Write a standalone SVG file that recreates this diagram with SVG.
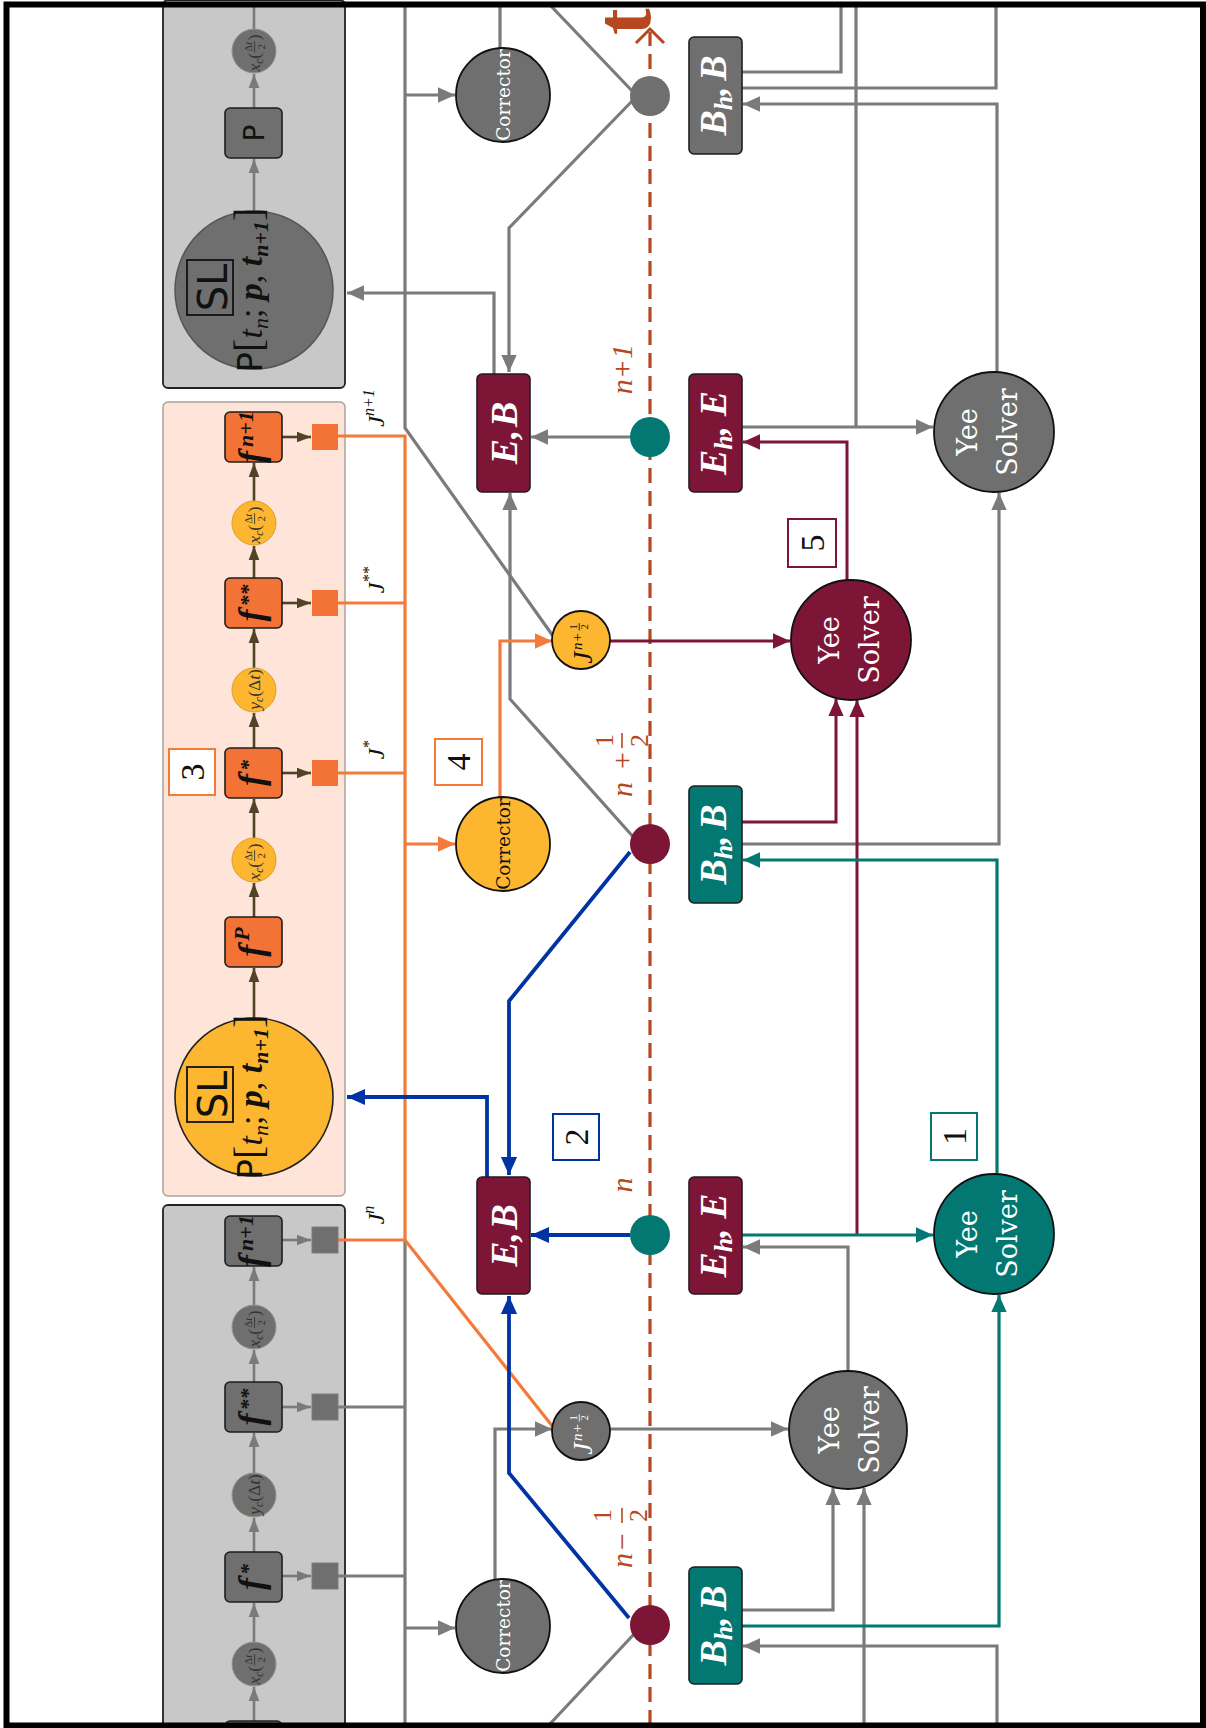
<svg xmlns="http://www.w3.org/2000/svg" width="1206" height="1728" viewBox="0 0 1206 1728">
<defs>
<style>
.gl{fill:none;stroke:#7b7b7b;stroke-width:3.2}
.ol{fill:none;stroke:#f47a3a;stroke-width:3.2}
.ml{fill:none;stroke:#7c1536;stroke-width:3}
.tl{fill:none;stroke:#037873;stroke-width:3.2}
.bl{fill:none;stroke:#0033a4;stroke-width:3.8}
.cp{fill:none;stroke:#4f4526;stroke-width:2.6}
.cg{fill:none;stroke:#7a7a7a;stroke-width:2.6}
.box{stroke:#1e1e1e;stroke-width:1.6}
.circ{stroke:#111;stroke-width:1.8}
.maroon{fill:#7c1536}
.teal{fill:#037873}
.dgray{fill:#6e6f6e}
.orange{fill:#f37337}
.yellow{fill:#fdb62f}
.lbl{font-family:"Liberation Serif","DejaVu Serif",serif;font-weight:bold;font-style:italic;font-size:38px;fill:#fff;text-anchor:middle}
.ys{font-family:"DejaVu Serif","Liberation Serif",serif;font-size:27px;fill:#fff;text-anchor:middle}
.cor{font-family:"DejaVu Serif","Liberation Serif",serif;font-size:18.5px;text-anchor:middle}
.fl{font-family:"Liberation Serif","DejaVu Serif",serif;font-weight:bold;font-style:italic;font-size:36px;fill:#111;text-anchor:middle}
.num{font-family:"Liberation Serif","DejaVu Serif",serif;font-size:34px;fill:#111;text-anchor:middle}
.rust{font-family:"Liberation Serif","DejaVu Serif",serif;fill:#b5481e}
.jl{font-family:"Liberation Serif","DejaVu Serif",serif;font-style:italic;font-size:24px;fill:#111;text-anchor:middle}
.sl{font-family:"Liberation Serif","DejaVu Serif",serif;font-size:34px;fill:#111;text-anchor:middle}
.sm{font-family:"Liberation Serif","DejaVu Serif",serif;fill:currentColor}
</style>
<marker id="aG" viewBox="0 0 10 10" refX="10" refY="5" markerUnits="userSpaceOnUse" markerWidth="17" markerHeight="17" orient="auto"><path d="M0,0.5 L10,5 L0,9.5 z" fill="#7b7b7b"/></marker>
<marker id="aO" viewBox="0 0 10 10" refX="10" refY="5" markerUnits="userSpaceOnUse" markerWidth="17" markerHeight="17" orient="auto"><path d="M0,0.5 L10,5 L0,9.5 z" fill="#f47a3a"/></marker>
<marker id="aM" viewBox="0 0 10 10" refX="10" refY="5" markerUnits="userSpaceOnUse" markerWidth="17" markerHeight="17" orient="auto"><path d="M0,0.5 L10,5 L0,9.5 z" fill="#7c1536"/></marker>
<marker id="aT" viewBox="0 0 10 10" refX="10" refY="5" markerUnits="userSpaceOnUse" markerWidth="17" markerHeight="17" orient="auto"><path d="M0,0.5 L10,5 L0,9.5 z" fill="#037873"/></marker>
<marker id="aB" viewBox="0 0 10 10" refX="10" refY="5" markerUnits="userSpaceOnUse" markerWidth="18" markerHeight="18" orient="auto"><path d="M0,0.5 L10,5 L0,9.5 z" fill="#0033a4"/></marker>
<marker id="sP" viewBox="0 0 10 10" refX="10" refY="5" markerUnits="userSpaceOnUse" markerWidth="14" markerHeight="14" orient="auto"><path d="M0,1.2 L10,5 L0,8.8 z" fill="#4f4526"/></marker>
<marker id="sG" viewBox="0 0 10 10" refX="10" refY="5" markerUnits="userSpaceOnUse" markerWidth="14" markerHeight="14" orient="auto"><path d="M0,1.2 L10,5 L0,8.8 z" fill="#7a7a7a"/></marker>
<g id="xcL"><g transform="rotate(-90) scale(1.45)">
<text class="sm" font-size="12"><tspan x="-14.2" y="4" font-style="italic">x</tspan><tspan font-size="8" dy="2" font-style="italic">c</tspan><tspan dy="-2">(</tspan></text>
<text class="sm" x="3" y="-1.6" font-size="7.5" text-anchor="middle">Δ<tspan font-style="italic">t</tspan></text>
<line x1="-0.8" x2="6.8" y1="0.4" y2="0.4" stroke="currentColor" stroke-width="0.6"/>
<text class="sm" x="3" y="7.4" font-size="7.5" text-anchor="middle">2</text>
<text class="sm" x="7.4" y="4" font-size="12">)</text>
</g></g>
<g id="ycL"><g transform="rotate(-90) scale(1.45)">
<text class="sm" font-size="12"><tspan x="-13.6" y="4" font-style="italic">y</tspan><tspan font-size="8" dy="2" font-style="italic">c</tspan><tspan dy="-2">(Δ</tspan><tspan font-style="italic">t</tspan><tspan>)</tspan></text>
</g></g>
<g id="jhL"><g transform="rotate(-90) scale(1.25)">
<text class="sm" x="-19" y="9" font-size="22" font-style="italic">J</text>
<text class="sm" x="-8" y="1" font-size="12" font-style="italic">n+</text>
<text class="sm" x="10.5" y="-3.2" font-size="8.5" text-anchor="middle">1</text>
<line x1="7.5" x2="13.5" y1="-1.4" y2="-1.4" stroke="currentColor" stroke-width="0.7"/>
<text class="sm" x="10.5" y="5.5" font-size="8.5" text-anchor="middle">2</text>
</g></g>
<g id="slL"><g transform="rotate(-90)">
<rect x="-25" y="-67" width="55" height="46" fill="none" stroke="#111" stroke-width="1.8"/>
<text x="2.5" y="-27" font-family="'DejaVu Sans','Liberation Sans',sans-serif" font-size="40" fill="#111" text-anchor="middle">SL</text>
<text class="sl" x="0" y="8"><tspan font-family="'DejaVu Sans','Liberation Sans',sans-serif">P</tspan><tspan font-size="40">[</tspan><tspan font-style="italic">t</tspan><tspan font-style="italic" font-size="22" dy="6">n</tspan><tspan dy="-6">; </tspan><tspan font-weight="bold" font-style="italic">p</tspan><tspan>, </tspan><tspan font-weight="bold" font-style="italic">t</tspan><tspan font-weight="bold" font-style="italic" font-size="22" dy="6">n+1</tspan><tspan dy="-6" font-size="40">]</tspan></text>
</g></g>
</defs>

<rect x="0" y="0" width="1206" height="1728" fill="#fff"/>

<g id="panels">
<rect id="panel-top" x="163" y="0" width="182" height="388" rx="5" fill="#c8c8c8" stroke="#222" stroke-width="1.8"/>
<rect id="panel-mid" x="163" y="402" width="182" height="794" rx="5" fill="#fee4d9" stroke="#a9a29f" stroke-width="1.5"/>
<rect id="panel-bot" x="163" y="1205" width="182" height="530" rx="5" fill="#c8c8c8" stroke="#222" stroke-width="1.8"/>
</g>

<g id="timeline">
<path d="M650,1725 V32" fill="none" stroke="#b5481e" stroke-width="3.2" stroke-dasharray="15 8"/>
<path d="M636,43 L650,29 L664,43" fill="none" stroke="#b5481e" stroke-width="3"/>
<g transform="translate(650,35) rotate(-90)"><text class="rust" x="0" y="0" font-size="80" font-weight="bold">t</text></g>
<g transform="translate(632,369) rotate(-90)"><text class="rust" x="0" y="0" font-size="30" font-style="italic" text-anchor="middle">n+1</text></g>
<g transform="translate(632,1185) rotate(-90)"><text class="rust" x="0" y="0" font-size="30" font-style="italic" text-anchor="middle">n</text></g>
<g transform="translate(632,766) rotate(-90)">
<text class="rust" x="-31" y="0" font-size="30" font-style="italic">n</text>
<text class="rust" x="-3" y="0" font-size="30">+</text>
<text class="rust" x="25.5" y="-19" font-size="26" text-anchor="middle">1</text>
<line x1="18" x2="33" y1="-10" y2="-10" stroke="#b5481e" stroke-width="1.6"/>
<text class="rust" x="25.5" y="16" font-size="26" text-anchor="middle">2</text>
</g>
<g transform="translate(632,1540) rotate(-90)">
<text class="rust" x="-28" y="0" font-size="30" font-style="italic">n</text>
<text class="rust" x="-10" y="0" font-size="30">−</text>
<text class="rust" x="24.5" y="-21" font-size="26" text-anchor="middle">1</text>
<line x1="17" x2="32" y1="-10" y2="-10" stroke="#b5481e" stroke-width="1.6"/>
<text class="rust" x="24.5" y="15" font-size="26" text-anchor="middle">2</text>
</g>
</g>

<g id="connectors">
<path class="cg" d="M254,29V5" />
<path class="cg" d="M254,108V74" marker-end="url(#sG)"/>
<path class="cg" d="M254,211V159" marker-end="url(#sG)"/>
<path class="cp" d="M254,501V463" marker-end="url(#sP)"/>
<path class="cp" d="M254,578V546" marker-end="url(#sP)"/>
<path class="cp" d="M254,668V629" marker-end="url(#sP)"/>
<path class="cp" d="M254,748V713" marker-end="url(#sP)"/>
<path class="cp" d="M254,838V799" marker-end="url(#sP)"/>
<path class="cp" d="M254,917V883" marker-end="url(#sP)"/>
<path class="cp" d="M254,1018V968" marker-end="url(#sP)"/>
<path class="cp" d="M282,437H311" marker-end="url(#sP)"/>
<path class="cp" d="M282,603H311" marker-end="url(#sP)"/>
<path class="cp" d="M282,773H311" marker-end="url(#sP)"/>
<path class="cg" d="M254,1305V1267" marker-end="url(#sG)"/>
<path class="cg" d="M254,1382V1350" marker-end="url(#sG)"/>
<path class="cg" d="M254,1473V1433" marker-end="url(#sG)"/>
<path class="cg" d="M254,1552V1518" marker-end="url(#sG)"/>
<path class="cg" d="M254,1642V1603" marker-end="url(#sG)"/>
<path class="cg" d="M254,1721V1687" marker-end="url(#sG)"/>
<path class="cg" d="M282,1240H311" marker-end="url(#sG)"/>
<path class="cg" d="M282,1407H311" marker-end="url(#sG)"/>
<path class="cg" d="M282,1576H311" marker-end="url(#sG)"/>
<path class="gl" d="M405,5V428L553,636"/>
<path class="gl" d="M405,95H455" marker-end="url(#aG)"/>
<path class="gl" d="M500,48V5"/>
<path class="gl" d="M550,5L636,95"/>
<path class="gl" d="M636,97L509,228V372" marker-end="url(#aG)"/>
<path class="gl" d="M494,374V293H347" marker-end="url(#aG)"/>
<path class="gl" d="M630,437H531" marker-end="url(#aG)"/>
<path class="gl" d="M636,840L510,699V493" marker-end="url(#aG)"/>
<path class="gl" d="M742,72H841V5"/>
<path class="gl" d="M742,88H996V5"/>
<path class="gl" d="M997,372V104H743" marker-end="url(#aG)"/>
<path class="gl" d="M856,5V427"/>
<path class="gl" d="M742,427H933" marker-end="url(#aG)"/>
<path class="gl" d="M742,844H999V493" marker-end="url(#aG)"/>
<path class="gl" d="M848,1371V1247H743" marker-end="url(#aG)"/>
<path class="gl" d="M405,1240V1725"/>
<path class="gl" d="M338,1407H405"/>
<path class="gl" d="M338,1576H405"/>
<path class="gl" d="M405,1628H455" marker-end="url(#aG)"/>
<path class="gl" d="M495,1579V1429H552" marker-end="url(#aG)"/>
<path class="gl" d="M610,1429H788" marker-end="url(#aG)"/>
<path class="gl" d="M636,1632L549,1725"/>
<path class="gl" d="M742,1610H833V1488" marker-end="url(#aG)"/>
<path class="gl" d="M864,1725V1488" marker-end="url(#aG)"/>
<path class="gl" d="M997,1725V1646H743" marker-end="url(#aG)"/>
<path class="ol" d="M338,436H405V1240"/>
<path class="ol" d="M338,603H405"/>
<path class="ol" d="M338,773H405"/>
<path class="ol" d="M405,844H455" marker-end="url(#aO)"/>
<path class="ol" d="M500,797V641H552" marker-end="url(#aO)"/>
<path class="ol" d="M338,1240H405L553,1427"/>
<path class="ml" d="M610,641H790" marker-end="url(#aM)"/>
<path class="ml" d="M847,580V442H743" marker-end="url(#aM)"/>
<path class="ml" d="M742,822H836V699" marker-end="url(#aM)"/>
<path class="ml" d="M857,1234V700" marker-end="url(#aM)"/>
<path class="tl" d="M742,1235H933" marker-end="url(#aT)"/>
<path class="tl" d="M997,1174V860H743" marker-end="url(#aT)"/>
<path class="tl" d="M742,1626H999V1295" marker-end="url(#aT)"/>
<path class="bl" d="M630,1235H531" marker-end="url(#aB)"/>
<path class="bl" d="M630,852L509,1001V1175" marker-end="url(#aB)"/>
<path class="bl" d="M487,1177V1097H347" marker-end="url(#aB)"/>
<path class="bl" d="M629,1618L509,1473V1296" marker-end="url(#aB)"/>
</g>

<g id="nodes">
<g id="xc-top"><circle cx="254" cy="51" r="22" class="dgray" stroke="#9a9080" stroke-width="1"/><use href="#xcL" x="254" y="51" style="color:#333"/></g>
<g id="p-box"><rect x="225" y="108" width="57" height="50" rx="5" class="dgray box"/><g transform="translate(253.5,133) rotate(-90)"><text x="0" y="10" font-family="'DejaVu Sans','Liberation Sans',sans-serif" font-size="28" fill="#111" text-anchor="middle">P</text></g></g>
<g id="sl-top"><circle cx="254" cy="290" r="79" class="dgray" stroke="#555" stroke-width="1.5"/><use href="#slL" x="254" y="290"/></g>
<g id="f-n1"><rect x="225" y="412" width="57" height="50" rx="5" class="orange box"/><g transform="translate(253.5,437) rotate(-90)"><text class="fl" y="9">f<tspan font-size="22" dx="4" dy="-10">n+1</tspan></text></g></g>
<rect id="sq-n1" x="312" y="424" width="26" height="26" class="orange"/>
<g id="xc-p1"><circle cx="254" cy="523" r="22" class="yellow" stroke="#d99f2a" stroke-width="1"/><use href="#xcL" x="254" y="523" style="color:#333"/></g>
<g id="f-ss"><rect x="225" y="578" width="57" height="50" rx="5" class="orange box"/><g transform="translate(253.5,603) rotate(-90)"><text class="fl" y="9">f<tspan font-size="22" dx="3" dy="-8">**</tspan></text></g></g>
<rect id="sq-ss" x="312" y="590" width="26" height="26" class="orange"/>
<g id="yc-p"><circle cx="254" cy="690" r="22" class="yellow" stroke="#d99f2a" stroke-width="1"/><use href="#ycL" x="254" y="690" style="color:#333"/></g>
<g id="f-s"><rect x="225" y="748" width="57" height="50" rx="5" class="orange box"/><g transform="translate(253.5,773) rotate(-90)"><text class="fl" y="9">f<tspan font-size="22" dx="3" dy="-8">*</tspan></text></g></g>
<rect id="sq-s" x="312" y="760" width="26" height="26" class="orange"/>
<g id="xc-p2"><circle cx="254" cy="860" r="22" class="yellow" stroke="#d99f2a" stroke-width="1"/><use href="#xcL" x="254" y="860" style="color:#333"/></g>
<g id="f-p"><rect x="225" y="917" width="57" height="50" rx="5" class="orange box"/><g transform="translate(253.5,942) rotate(-90)"><text class="fl" y="9">f<tspan font-size="22" dx="4" dy="-14">P</tspan></text></g></g>
<g id="sl-mid"><circle cx="254" cy="1097" r="79" class="yellow" stroke="#222" stroke-width="1.6"/><use href="#slL" x="254" y="1097"/></g>
<g id="box3"><rect x="169" y="749" width="46" height="46" fill="#fff" stroke="#f47a3a" stroke-width="2"/><g transform="translate(192,772) rotate(-90)"><text class="num" y="11.5">3</text></g></g>
<g id="gf-n1"><rect x="225" y="1216" width="57" height="50" rx="5" class="dgray box"/><g transform="translate(253.5,1241) rotate(-90)"><text class="fl" y="9">f<tspan font-size="22" dx="4" dy="-10">n+1</tspan></text></g></g>
<rect id="gsq-n1" x="312" y="1227" width="26" height="26" class="dgray" stroke="#8a7a70" stroke-width="1"/>
<g id="gxc-1"><circle cx="254" cy="1327" r="22" class="dgray" stroke="#9a9080" stroke-width="1"/><use href="#xcL" x="254" y="1327" style="color:#333"/></g>
<g id="gf-ss"><rect x="225" y="1382" width="57" height="50" rx="5" class="dgray box"/><g transform="translate(253.5,1407) rotate(-90)"><text class="fl" y="9">f<tspan font-size="22" dx="3" dy="-8">**</tspan></text></g></g>
<rect id="gsq-ss" x="312" y="1394" width="26" height="26" class="dgray" stroke="#8a7a70" stroke-width="1"/>
<g id="gyc"><circle cx="254" cy="1495" r="22" class="dgray" stroke="#9a9080" stroke-width="1"/><use href="#ycL" x="254" y="1495" style="color:#333"/></g>
<g id="gf-s"><rect x="225" y="1552" width="57" height="50" rx="5" class="dgray box"/><g transform="translate(253.5,1577) rotate(-90)"><text class="fl" y="9">f<tspan font-size="22" dx="3" dy="-8">*</tspan></text></g></g>
<rect id="gsq-s" x="312" y="1563" width="26" height="26" class="dgray" stroke="#8a7a70" stroke-width="1"/>
<g id="gxc-2"><circle cx="254" cy="1664" r="22" class="dgray" stroke="#9a9080" stroke-width="1"/><use href="#xcL" x="254" y="1664" style="color:#333"/></g>
<rect id="gf-next" x="225" y="1721" width="57" height="50" rx="5" class="dgray box"/>

<g transform="translate(384,408) rotate(-90)"><text class="jl">J<tspan font-size="16" dy="-10">n+1</tspan></text></g>
<g transform="translate(384,580) rotate(-90)"><text class="jl">J<tspan font-size="16" dy="-10">**</tspan></text></g>
<g transform="translate(384,750) rotate(-90)"><text class="jl">J<tspan font-size="16" dy="-10">*</tspan></text></g>
<g transform="translate(384,1215) rotate(-90)"><text class="jl">J<tspan font-size="16" dy="-10">n</tspan></text></g>

<g id="corr-top"><circle cx="503" cy="95" r="47" class="dgray circ"/><g transform="translate(503,95) rotate(-90)"><text class="cor" y="7" fill="#fff">Corrector</text></g></g>
<g id="corr-mid"><circle cx="503" cy="844" r="47" class="yellow circ"/><g transform="translate(503,844) rotate(-90)"><text class="cor" y="7" fill="#111">Corrector</text></g></g>
<g id="corr-bot"><circle cx="503" cy="1626" r="47" class="dgray circ"/><g transform="translate(503,1626) rotate(-90)"><text class="cor" y="7" fill="#fff">Corrector</text></g></g>

<g id="jh-mid"><circle cx="581" cy="640" r="29" class="yellow circ"/><use href="#jhL" x="581" y="640" style="color:#111"/></g>
<g id="jh-bot"><circle cx="581" cy="1431" r="29" class="dgray circ"/><use href="#jhL" x="581" y="1431" style="color:#fff"/></g>

<g id="bhb-top"><rect x="689" y="37" width="53" height="117" rx="5" class="dgray box"/><g transform="translate(715.5,95.5) rotate(-90)"><text class="lbl" y="10" word-spacing="-4">B<tspan font-size="26" dy="6">h</tspan><tspan dy="-6">, B</tspan></text></g></g>
<g id="eb-n1"><rect x="477" y="374" width="53" height="118" rx="5" class="maroon box"/><g transform="translate(503.5,433) rotate(-90)"><text class="lbl" y="13" word-spacing="-7">E, B</text></g></g>
<g id="ehe-n1"><rect x="689" y="374" width="53" height="118" rx="5" class="maroon box"/><g transform="translate(715.5,433) rotate(-90)"><text class="lbl" y="10">E<tspan font-size="26" dy="6">h</tspan><tspan dy="-6">, E</tspan></text></g></g>
<g id="bhb-mid"><rect x="689" y="786" width="53" height="117" rx="5" class="teal box"/><g transform="translate(715.5,844.5) rotate(-90)"><text class="lbl" y="10" word-spacing="-4">B<tspan font-size="26" dy="6">h</tspan><tspan dy="-6">, B</tspan></text></g></g>
<g id="eb-n"><rect x="477" y="1177" width="53" height="117" rx="5" class="maroon box"/><g transform="translate(503.5,1235.5) rotate(-90)"><text class="lbl" y="13" word-spacing="-7">E, B</text></g></g>
<g id="ehe-n"><rect x="689" y="1177" width="53" height="117" rx="5" class="maroon box"/><g transform="translate(715.5,1235.5) rotate(-90)"><text class="lbl" y="10">E<tspan font-size="26" dy="6">h</tspan><tspan dy="-6">, E</tspan></text></g></g>
<g id="bhb-bot"><rect x="689" y="1567" width="53" height="117" rx="5" class="teal box"/><g transform="translate(715.5,1625.5) rotate(-90)"><text class="lbl" y="10" word-spacing="-4">B<tspan font-size="26" dy="6">h</tspan><tspan dy="-6">, B</tspan></text></g></g>

<circle id="dot-top" cx="650" cy="96" r="20" class="dgray"/>
<circle id="dot-n1" cx="650" cy="437" r="20" class="teal"/>
<circle id="dot-nh" cx="650" cy="844" r="20" class="maroon"/>
<circle id="dot-n" cx="650" cy="1235" r="20" class="teal"/>
<circle id="dot-nmh" cx="650" cy="1625" r="20" class="maroon"/>

<g id="yee-top"><circle cx="994" cy="432" r="60" class="dgray circ"/><g transform="translate(994,432) rotate(-90)"><text class="ys" y="-17" fill="#eee">Yee</text><text class="ys" y="23" fill="#eee">Solver</text></g></g>
<g id="yee-mid"><circle cx="851" cy="640" r="60" class="maroon circ"/><g transform="translate(851,640) rotate(-90)"><text class="ys" y="-12">Yee</text><text class="ys" y="28">Solver</text></g></g>
<g id="yee-teal"><circle cx="994" cy="1234" r="60" class="teal circ"/><g transform="translate(994,1234) rotate(-90)"><text class="ys" y="-17">Yee</text><text class="ys" y="23">Solver</text></g></g>
<g id="yee-bot"><circle cx="848" cy="1430" r="59" class="dgray circ"/><g transform="translate(848,1430) rotate(-90)"><text class="ys" y="-9" fill="#eee">Yee</text><text class="ys" y="31" fill="#eee">Solver</text></g></g>

<g id="box1"><rect x="931" y="1113" width="46" height="47" fill="#fff" stroke="#037873" stroke-width="2"/><g transform="translate(954,1136.5) rotate(-90)"><text class="num" y="11.5">1</text></g></g>
<g id="box2"><rect x="553" y="1114" width="46" height="46" fill="#fff" stroke="#0033a4" stroke-width="2"/><g transform="translate(576,1137) rotate(-90)"><text class="num" y="11.5">2</text></g></g>
<g id="box4"><rect x="435" y="739" width="47" height="46" fill="#fff" stroke="#f47a3a" stroke-width="2"/><g transform="translate(458.5,762) rotate(-90)"><text class="num" y="11.5">4</text></g></g>
<g id="box5"><rect x="788" y="519" width="48" height="48" fill="#fff" stroke="#7c1536" stroke-width="2"/><g transform="translate(812,543) rotate(-90)"><text class="num" y="11.5">5</text></g></g>
</g>

<rect id="frame" x="6.5" y="4.5" width="1196.5" height="1721" fill="none" stroke="#000" stroke-width="6"/>
</svg>
